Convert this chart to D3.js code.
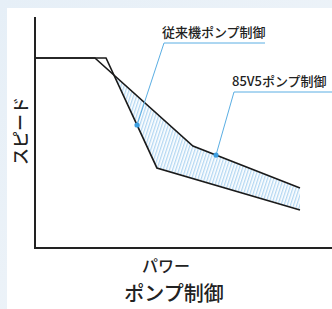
<!DOCTYPE html>
<html lang="ja">
<head>
<meta charset="UTF-8">
<script src="https://cdn.jsdelivr.net/npm/d3@7"></script>
<style>
    body { margin: 0; background: #eef3f8; }
    svg { display: block; }
    text { font-family: "Noto Sans CJK JP", "Noto Sans", sans-serif; fill: #222; }
</style>
</head>
<body>
<svg id="chart" width="332" height="309"></svg>
<script>
    // power (x) vs speed (y), relative units 0..100
    const conventional = [[0, 82.6], [26.8, 82.6], [46, 34.8], [100, 16.5]];
    const v85 = [[0, 82.6], [22.6, 82.6], [59.6, 44.3], [100, 26.1]];
    const seriesNames = ["従来機ポンプ制御", "85V5ポンプ制御"];
    const xLabel = "パワー";
    const yLabel = "スピード";
    const title = "ポンプ制御";

    const svg = d3.select("#chart");

    // soft background + white panel
    const defs = svg.append("defs");
    const grad = defs.append("linearGradient").attr("id", "bg").attr("x1", 0).attr("y1", 0).attr("x2", 1).attr("y2", 1);
    grad.append("stop").attr("offset", 0).attr("stop-color", "#e6eff7");
    grad.append("stop").attr("offset", 1).attr("stop-color", "#f1f5f9");
    svg.append("rect").attr("width", 332).attr("height", 309).attr("fill", "url(#bg)");
    svg.append("rect").attr("x", 7).attr("y", 8).attr("width", 330).attr("height", 305).attr("fill", "#fff");

    const pat = defs.append("pattern").attr("id", "hatch")
        .attr("patternUnits", "userSpaceOnUse")
        .attr("width", 3).attr("height", 3)
        .attr("patternTransform", "rotate(18)");
    pat.append("rect").attr("width", 1.3).attr("height", 3).attr("fill", "#b3d7f2");

    const x = d3.scaleLinear().domain([0, 100]).range([35, 300]);
    const y = d3.scaleLinear().domain([0, 100]).range([248, 18]);
    const line = d3.line().x(d => x(d[0])).y(d => y(d[1]));

    // hatched area between the curves (from their crossing onwards)
    function interp(pts, xv) {
        for (let i = 1; i < pts.length; i++) {
            if (xv <= pts[i][0]) {
                const t = (xv - pts[i - 1][0]) / (pts[i][0] - pts[i - 1][0]);
                return pts[i - 1][1] + t * (pts[i][1] - pts[i - 1][1]);
            }
        }
        return pts[pts.length - 1][1];
    }
    let xs = Array.from(new Set(conventional.concat(v85).map(d => d[0]))).sort((a, b) => a - b);
    // find crossing
    let cross = null;
    for (let xv = 23; xv < 46; xv += 0.05) {
        if (interp(v85, xv) >= interp(conventional, xv)) { cross = xv; break; }
    }
    xs = [cross].concat(xs.filter(v => v > cross));
    const areaPts = xs.map(v => ({ x: v, a: interp(v85, v), b: interp(conventional, v) }));
    svg.append("path")
        .attr("d", d3.area().x(d => x(d.x)).y0(d => y(d.b)).y1(d => y(d.a))(areaPts))
        .attr("fill", "url(#hatch)");

    [conventional, v85].forEach(s => {
        svg.append("path").attr("d", line(s))
            .attr("fill", "none").attr("stroke", "#1a1a1a").attr("stroke-width", 1.6);
    });

    // axes
    svg.append("path")
        .attr("d", `M${x(0)},${17}V${y(0)}H332`)
        .attr("fill", "none").attr("stroke", "#222").attr("stroke-width", 2);

    // callouts
    const callouts = [
        { at: [38.5, interp(conventional, 38.5)], elbow: [164, 43], end: 265, name: seriesNames[0] },
        { at: [68.3, interp(v85, 68.3)], elbow: [234, 92], end: 332, name: seriesNames[1] }
    ];
    callouts.forEach(c => {
        const px = x(c.at[0]), py = y(c.at[1]);
        svg.append("path")
            .attr("d", `M${px},${py}L${c.elbow[0]},${c.elbow[1]}H${c.end}`)
            .attr("fill", "none").attr("stroke", "#5aaee3").attr("stroke-width", 1);
        svg.append("circle").attr("cx", px).attr("cy", py).attr("r", 2.6).attr("fill", "#3d9ee0");
        svg.append("text").attr("x", c.elbow[0] - 2).attr("y", c.elbow[1] - 6)
            .attr("font-size", 13).attr("font-weight", 500).text(c.name);
    });

    svg.append("text").attr("x", 166).attr("y", 272).attr("text-anchor", "middle")
        .attr("font-size", 16).attr("font-weight", 500).text(xLabel);
    svg.append("text").attr("transform", "translate(27,131) rotate(-90)").attr("text-anchor", "middle")
        .attr("font-size", 17).attr("font-weight", 500).text(yLabel);
    svg.append("text").attr("x", 174).attr("y", 301).attr("text-anchor", "middle")
        .attr("font-size", 20).attr("font-weight", 500).text(title);
</script>
</body>
</html>
